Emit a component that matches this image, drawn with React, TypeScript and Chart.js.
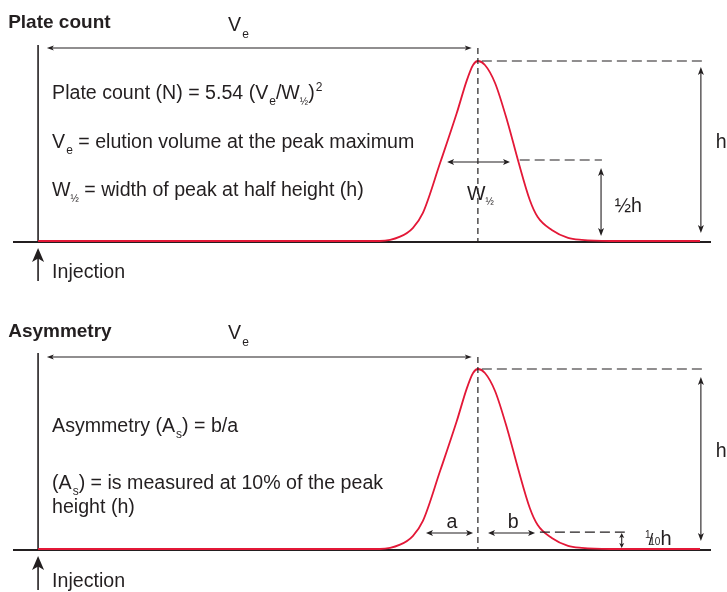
import { useEffect, useRef } from 'react';
import { Chart, registerables } from 'chart.js';

Chart.register(...registerables);

// Elution volume (mL) and normalised detector signal of the illustrated peak
const volume = [0, 7.5, 7.77, 8.23, 8.52, 8.75, 9.14, 9.52, 9.75, 9.89, 10, 10.16, 10.39, 10.68, 10.91, 11.18, 11.36, 11.68, 12.05, 12.36, 13, 15.05];
const signal = [0, 0, 0, 0.024, 0.072, 0.156, 0.433, 0.711, 0.894, 0.978, 1, 0.978, 0.878, 0.656, 0.45, 0.228, 0.133, 0.061, 0.017, 0.006, 0, 0];

const FONT = '"Liberation Sans", Arial, sans-serif';
const INK = '#231f20';
const RED = '#e31837';
const BASE = 19.6;

type Part = { t: string; size?: number; dy?: number; dx?: number; bold?: boolean };
type Item =
  | { type: 'text'; x: number; y: number; parts: Part[]; align?: 'left' | 'center' }
  | { type: 'arrow'; x1: number; y1: number; x2: number; y2: number; len?: number; half?: number }
  | { type: 'dash'; x1: number; y1: number; x2: number; y2: number; dash: number[] }
  | { type: 'inject'; x: number; y1: number; y2: number };

const topItems: Item[] = [
  { type: 'text', x: -0.68, y: 1.183, parts: [{ t: 'Plate count', bold: true, size: 19 }] },
  { type: 'text', x: 4.32, y: 1.167, parts: [{ t: 'V' }, { t: 'e', size: 12, dy: 7, dx: 1 }] },
  { type: 'arrow', x1: 0.2, y1: 1.072, x2: 9.86, y2: 1.072, len: 7, half: 2.5 },
  { type: 'dash', x1: 10, y1: 1.072, x2: 10, y2: 0, dash: [6, 4] },
  { type: 'dash', x1: 10.09, y1: 1, x2: 15.16, y2: 1, dash: [10, 5] },
  { type: 'arrow', x1: 15.07, y1: 0.967, x2: 15.07, y2: 0.044 },
  { type: 'text', x: 15.41, y: 0.517, parts: [{ t: 'h' }] },
  { type: 'dash', x1: 10.95, y1: 0.45, x2: 12.82, y2: 0.45, dash: [10, 5] },
  { type: 'arrow', x1: 12.8, y1: 0.406, x2: 12.8, y2: 0.028 },
  { type: 'text', x: 13.11, y: 0.161, parts: [{ t: '½h' }] },
  { type: 'arrow', x1: 9.3, y1: 0.439, x2: 10.73, y2: 0.439, len: 7, half: 3 },
  { type: 'text', x: 9.75, y: 0.228, parts: [{ t: 'W' }, { t: '½', size: 10, dy: 5 }] },
  { type: 'text', x: 0.318, y: 0.789, parts: [{ t: 'Plate count (N) = 5.54 (V' }, { t: 'e', size: 12, dy: 6, dx: 1 }, { t: '/W' }, { t: '½', size: 10, dy: 6 }, { t: ')' }, { t: '2', size: 12, dy: -8, dx: 1 }] },
  { type: 'text', x: 0.318, y: 0.517, parts: [{ t: 'V' }, { t: 'e', size: 12, dy: 6, dx: 1 }, { t: ' = elution volume at the peak maximum' }] },
  { type: 'text', x: 0.318, y: 0.25, parts: [{ t: 'W' }, { t: '½', size: 10, dy: 6 }, { t: ' = width of peak at half height (h)' }] },
  { type: 'inject', x: 0, y1: -0.039, y2: -0.222 },
  { type: 'text', x: 0.318, y: -0.206, parts: [{ t: 'Injection' }] },
];

const bottomItems: Item[] = [
  { type: 'text', x: -0.68, y: 1.178, parts: [{ t: 'Asymmetry', bold: true, size: 19 }] },
  { type: 'text', x: 4.32, y: 1.167, parts: [{ t: 'V' }, { t: 'e', size: 12, dy: 7, dx: 1 }] },
  { type: 'arrow', x1: 0.2, y1: 1.067, x2: 9.86, y2: 1.067, len: 7, half: 2.5 },
  { type: 'dash', x1: 10, y1: 1.067, x2: 10, y2: 0, dash: [6, 4] },
  { type: 'dash', x1: 10.09, y1: 1, x2: 15.16, y2: 1, dash: [10, 5] },
  { type: 'arrow', x1: 15.07, y1: 0.956, x2: 15.07, y2: 0.044 },
  { type: 'text', x: 15.41, y: 0.511, parts: [{ t: 'h' }] },
  { type: 'dash', x1: 11.41, y1: 0.094, x2: 13.34, y2: 0.094, dash: [10, 5] },
  { type: 'arrow', x1: 13.27, y1: 0.089, x2: 13.27, y2: 0.006, len: 5, half: 2.5 },
  { type: 'text', x: 13.8, y: 0.022, parts: [{ t: '1', size: 10, dy: -7 }, { t: '/', size: 17, dx: -2 }, { t: '10', size: 10, dx: -4 }, { t: 'h', size: 20 }] },
  { type: 'arrow', x1: 8.82, y1: 0.089, x2: 9.89, y2: 0.089, len: 7, half: 3 },
  { type: 'text', x: 9.41, y: 0.117, align: 'center', parts: [{ t: 'a' }] },
  { type: 'arrow', x1: 10.23, y1: 0.089, x2: 11.3, y2: 0.089, len: 7, half: 3 },
  { type: 'text', x: 10.8, y: 0.117, align: 'center', parts: [{ t: 'b' }] },
  { type: 'text', x: 0.318, y: 0.65, parts: [{ t: 'Asymmetry (A' }, { t: 's', size: 12, dy: 6, dx: 1 }, { t: ') = b/a' }] },
  { type: 'text', x: 0.318, y: 0.333, parts: [{ t: '(A' }, { t: 's', size: 12, dy: 6, dx: 1 }, { t: ') = is measured at 10% of the peak' }] },
  { type: 'text', x: 0.318, y: 0.2, parts: [{ t: 'height (h)' }] },
  { type: 'inject', x: 0, y1: -0.039, y2: -0.228 },
  { type: 'text', x: 0.318, y: -0.211, parts: [{ t: 'Injection' }] },
];

function head(ctx: CanvasRenderingContext2D, tx: number, ty: number, ang: number, len: number, half: number) {
  const c = Math.cos(ang), s = Math.sin(ang);
  const bx = tx - len * c, by = ty - len * s;
  const nx = tx - len * 0.75 * c, ny = ty - len * 0.75 * s;
  ctx.beginPath();
  ctx.moveTo(tx, ty);
  ctx.lineTo(bx - half * s, by + half * c);
  ctx.lineTo(nx, ny);
  ctx.lineTo(bx + half * s, by - half * c);
  ctx.closePath();
  ctx.fill();
}

function font(p: Part) {
  return `${p.bold ? 'bold ' : ''}${p.size ?? BASE}px ${FONT}`;
}

function makePlugin(items: Item[]) {
  return {
    id: 'diagram',
    beforeDatasetsDraw(chart: any) {
      const { ctx, chartArea, scales } = chart;
      const x = scales.x, y = scales.y;
      const y0 = y.getPixelForValue(0);
      ctx.save();
      ctx.strokeStyle = INK;
      ctx.lineWidth = 2;
      ctx.beginPath();
      ctx.moveTo(chartArea.left, y0 + 1);
      ctx.lineTo(chartArea.right, y0 + 1);
      ctx.stroke();
      const x0 = x.getPixelForValue(0);
      ctx.lineWidth = 1.6;
      ctx.beginPath();
      ctx.moveTo(x0, chartArea.top);
      ctx.lineTo(x0, y0 + 2);
      ctx.stroke();
      ctx.restore();
    },
    afterDatasetsDraw(chart: any) {
      const { ctx, scales } = chart;
      const X = (v: number) => scales.x.getPixelForValue(v);
      const Y = (v: number) => scales.y.getPixelForValue(v);
      ctx.save();
      ctx.fillStyle = INK;
      ctx.strokeStyle = INK;
      for (const it of items) {
        if (it.type === 'dash') {
          ctx.setLineDash(it.dash);
          ctx.lineWidth = 1.2;
          ctx.beginPath();
          ctx.moveTo(X(it.x1), Y(it.y1));
          ctx.lineTo(X(it.x2), Y(it.y2));
          ctx.stroke();
          ctx.setLineDash([]);
        } else if (it.type === 'arrow') {
          const ax = X(it.x1), ay = Y(it.y1), bx = X(it.x2), by = Y(it.y2);
          const len = it.len ?? 8, half = it.half ?? 3;
          const ang = Math.atan2(by - ay, bx - ax);
          ctx.lineWidth = 1.1;
          ctx.beginPath();
          ctx.moveTo(ax + Math.cos(ang) * len * 0.7, ay + Math.sin(ang) * len * 0.7);
          ctx.lineTo(bx - Math.cos(ang) * len * 0.7, by - Math.sin(ang) * len * 0.7);
          ctx.stroke();
          head(ctx, bx, by, ang, len, half);
          head(ctx, ax, ay, ang + Math.PI, len, half);
        } else if (it.type === 'inject') {
          const px = X(it.x), t = Y(it.y1), b = Y(it.y2);
          ctx.lineWidth = 1.6;
          ctx.beginPath();
          ctx.moveTo(px, t + 10);
          ctx.lineTo(px, b);
          ctx.stroke();
          head(ctx, px, t, -Math.PI / 2, 14, 6);
        } else if (it.type === 'text') {
          ctx.textBaseline = 'alphabetic';
          ctx.textAlign = 'left';
          let total = 0;
          for (const p of it.parts) {
            ctx.font = font(p);
            total += (p.dx ?? 0) + ctx.measureText(p.t).width;
          }
          let cx = X(it.x) - (it.align === 'center' ? total / 2 : 0);
          const by = Y(it.y);
          for (const p of it.parts) {
            ctx.font = font(p);
            cx += p.dx ?? 0;
            ctx.fillText(p.t, cx, by + (p.dy ?? 0));
            cx += ctx.measureText(p.t).width;
          }
        }
      }
      ctx.restore();
    },
  };
}

function Panel({ items, height, bottomPad }: { items: Item[]; height: number; bottomPad: number }) {
  const ref = useRef<HTMLCanvasElement | null>(null);
  useEffect(() => {
    if (!ref.current) return;
    const chart = new Chart(ref.current, {
      type: 'line',
      data: {
        datasets: [
          {
            data: volume.map((v, i) => ({ x: v, y: signal[i] })),
            borderColor: RED,
            borderWidth: 1.8,
            pointRadius: 0,
            cubicInterpolationMode: 'monotone',
            clip: false as any,
            fill: false,
          },
        ],
      },
      options: {
        animation: false,
        responsive: false,
        devicePixelRatio: 1,
        layout: { padding: { left: 13, right: 16, top: 45, bottom: bottomPad } },
        scales: {
          x: { type: 'linear', min: -0.57, max: 15.3, display: false },
          y: { type: 'linear', min: 0, max: 1.089, display: false },
        },
        plugins: { legend: { display: false }, tooltip: { enabled: false } },
      },
      plugins: [makePlugin(items) as any],
    });
    return () => chart.destroy();
  }, [items, height, bottomPad]);
  return <canvas ref={ref} width={727} height={height} style={{ display: 'block', width: 727, height }} />;
}

export default function App() {
  return (
    <div style={{ position: 'absolute', left: 0, top: 0, width: 727, height: 592, background: '#fff' }}>
      <Panel items={topItems} height={308} bottomPad={67} />
      <Panel items={bottomItems} height={284} bottomPad={43} />
    </div>
  );
}
